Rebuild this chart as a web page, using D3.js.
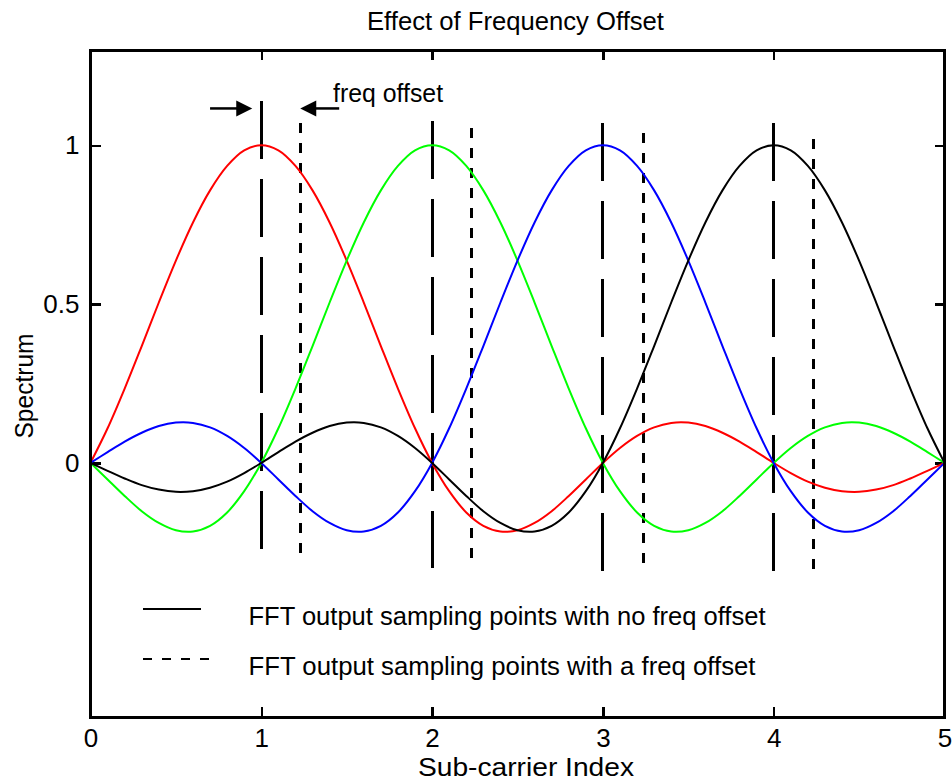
<!DOCTYPE html>
<html>
<head>
<meta charset="utf-8">
<script src="https://d3js.org/d3.v7.min.js"></script>
<style>
  body { margin: 0; background: #fff; }
  text { font-family: Arial, "Liberation Sans", sans-serif; fill: #000; }
</style>
</head>
<body>
<div class="plot-item"></div>
<script>
// sub-carrier index axis (sample positions of the curves)
var subcarrierIndex = [0,0.1,0.2,0.3,0.4,0.5,0.6,0.7,0.8,0.9,
  1,1.1,1.2,1.3,1.4,1.5,1.6,1.7,1.8,1.9,
  2,2.1,2.2,2.3,2.4,2.5,2.6,2.7,2.8,2.9,
  3,3.1,3.2,3.3,3.4,3.5,3.6,3.7,3.8,3.9,
  4,4.1,4.2,4.3,4.4,4.5,4.6,4.7,4.8,4.9,5];

// spectrum of each sub-carrier
var spectrumRed = [0,0.109,0.234,0.368,0.505,0.637,0.757,0.858,0.935,0.984,
  1,0.984,0.935,0.858,0.757,0.637,0.505,0.368,0.234,0.109,
  0,-0.089,-0.156,-0.198,-0.216,-0.212,-0.189,-0.152,-0.104,-0.052,
  0,0.047,0.085,0.112,0.126,0.127,0.116,0.095,0.067,0.034,
  0,-0.032,-0.059,-0.078,-0.089,-0.091,-0.084,-0.070,-0.049,-0.025,0];
var spectrumGreen = [0,-0.052,-0.104,-0.152,-0.189,-0.212,-0.216,-0.198,-0.156,-0.089,
  0,0.109,0.234,0.368,0.505,0.637,0.757,0.858,0.935,0.984,
  1,0.984,0.935,0.858,0.757,0.637,0.505,0.368,0.234,0.109,
  0,-0.089,-0.156,-0.198,-0.216,-0.212,-0.189,-0.152,-0.104,-0.052,
  0,0.047,0.085,0.112,0.126,0.127,0.116,0.095,0.067,0.034,0];
var spectrumBlue = [0,0.034,0.067,0.095,0.116,0.127,0.126,0.112,0.085,0.047,
  0,-0.052,-0.104,-0.152,-0.189,-0.212,-0.216,-0.198,-0.156,-0.089,
  0,0.109,0.234,0.368,0.505,0.637,0.757,0.858,0.935,0.984,
  1,0.984,0.935,0.858,0.757,0.637,0.505,0.368,0.234,0.109,
  0,-0.089,-0.156,-0.198,-0.216,-0.212,-0.189,-0.152,-0.104,-0.052,0];
var spectrumBlack = [0,-0.025,-0.049,-0.070,-0.084,-0.091,-0.089,-0.078,-0.059,-0.032,
  0,0.034,0.067,0.095,0.116,0.127,0.126,0.112,0.085,0.047,
  0,-0.052,-0.104,-0.152,-0.189,-0.212,-0.216,-0.198,-0.156,-0.089,
  0,0.109,0.234,0.368,0.505,0.637,0.757,0.858,0.935,0.984,
  1,0.984,0.935,0.858,0.757,0.637,0.505,0.368,0.234,0.109,0];

// FFT sampling points: without offset, and with a frequency offset
var samplePoints = [1, 2, 3, 4];
var sampleTop = [1.141, 1.078, 1.071, 1.071];
var sampleBottom = [-0.271, -0.331, -0.343, -0.343];
var offsetPoints = [1.232, 2.233, 3.235, 4.235];
var offsetTop = [1.071, 1.055, 1.039, 1.02];
var offsetBottom = [-0.312, -0.331, -0.343, -0.363];

// arrows marking the offset
var arrowFrom = [0.70, 1.456];
var arrowTo = [0.947, 1.228];
var arrowLevel = 1.116;

var xTicks = [0, 1, 2, 3, 4, 5];
var yTicks = [0, 0.5, 1];
var legendLabels = ["FFT output sampling points with no freq offset",
                    "FFT output sampling points with a freq offset"];

var w = 952;
var h = 782;
var margin = { top: 50, bottom: 65, left: 90.5, right: 7.5 };
var width = w - margin.left - margin.right;
var height = h - margin.top - margin.bottom;

var svg = d3.select(".plot-item").append("svg")
      .attr("width", w)
      .attr("height", h);
var chart = svg.append("g")
      .attr("transform", "translate(" + margin.left + "," + margin.top + ")");

var x = d3.scaleLinear().domain([0, 5]).range([0, width]);
var y = d3.scaleLinear().domain([-0.8, 1.3]).range([height, 0]);

// axes, ticks pointing inward
function styleAxis(g, labels) {
  g.select(".domain").remove();
  g.selectAll(".tick line").attr("stroke", "#000").attr("stroke-width", 2.5)
    .attr("shape-rendering", "crispEdges");
  g.selectAll(".tick text").attr("font-size", 26).attr("fill", "#000")
    .style("font-family", "Arial, 'Liberation Sans', sans-serif");
  if (!labels) g.selectAll(".tick text").remove();
}
chart.append("g")
  .attr("transform", "translate(0," + height + ")")
  .call(d3.axisBottom(x).tickValues(xTicks).tickSize(-10).tickPadding(12).tickFormat(d3.format("d")))
  .call(styleAxis, true);
chart.append("g")
  .call(d3.axisTop(x).tickValues(xTicks).tickSize(-10))
  .call(styleAxis, false);
chart.append("g")
  .call(d3.axisLeft(y).tickValues(yTicks).tickSize(-10).tickPadding(11).tickFormat(d3.format("")))
  .call(styleAxis, true);
chart.append("g")
  .attr("transform", "translate(" + width + ",0)")
  .call(d3.axisRight(y).tickValues(yTicks).tickSize(-10))
  .call(styleAxis, false);

// vertical sampling lines
chart.selectAll(".sample")
  .data(samplePoints)
  .enter().append("line")
  .attr("x1", function(d){ return x(d); })
  .attr("x2", function(d){ return x(d); })
  .attr("y1", function(d, i){ return y(sampleTop[i]); })
  .attr("y2", function(d, i){ return y(sampleBottom[i]); })
  .attr("stroke", "#000")
  .attr("stroke-width", 3)
  .attr("stroke-dasharray", "58,20")
  .attr("shape-rendering", "crispEdges");
chart.selectAll(".offset")
  .data(offsetPoints)
  .enter().append("line")
  .attr("x1", function(d){ return x(d); })
  .attr("x2", function(d){ return x(d); })
  .attr("y1", function(d, i){ return y(offsetTop[i]); })
  .attr("y2", function(d, i){ return y(offsetBottom[i]); })
  .attr("stroke", "#000")
  .attr("stroke-width", 3)
  .attr("stroke-dasharray", "10,10")
  .attr("shape-rendering", "crispEdges");

// the four sub-carrier spectra
var series = [
  { values: spectrumRed, color: "#ff0000" },
  { values: spectrumGreen, color: "#00ff00" },
  { values: spectrumBlue, color: "#0000ff" },
  { values: spectrumBlack, color: "#000000" }
];
var line = d3.line()
  .x(function(d, i){ return x(subcarrierIndex[i]); })
  .y(function(d){ return y(d); })
  .curve(d3.curveCatmullRom);
chart.selectAll(".spectrum")
  .data(series)
  .enter().append("path")
  .attr("d", function(d){ return line(d.values); })
  .attr("fill", "none")
  .attr("stroke", function(d){ return d.color; })
  .attr("stroke-width", 2);

// freq offset arrows
arrowFrom.forEach(function(from, i){
  var to = arrowTo[i];
  var dir = to > from ? 1 : -1;
  var tipX = x(to), lineY = y(arrowLevel);
  chart.append("line")
    .attr("x1", x(from)).attr("x2", tipX - dir * 12)
    .attr("y1", lineY).attr("y2", lineY)
    .attr("stroke", "#000").attr("stroke-width", 2.5);
  chart.append("path")
    .attr("d", "M" + tipX + "," + lineY + "L" + (tipX - dir * 16) + "," + (lineY - 8) +
               "L" + (tipX - dir * 16) + "," + (lineY + 8) + "Z")
    .attr("fill", "#000");
});
chart.append("text")
  .attr("x", x(1.42))
  .attr("y", y(1.135))
  .attr("font-size", 25)
  .attr("textLength", 110)
  .attr("lengthAdjust", "spacingAndGlyphs")
  .text("freq offset");

// legend
var legend = chart.append("g")
  .attr("transform", "translate(52," + (height - 108) + ")");
legendLabels.forEach(function(label, i){
  var row = legend.append("g").attr("transform", "translate(0," + (i * 50) + ")");
  row.append("line")
    .attr("x1", 0).attr("x2", i ? 68 : 58)
    .attr("y1", 0).attr("y2", 0)
    .attr("stroke", "#000").attr("stroke-width", 2.5)
    .attr("stroke-dasharray", i ? "9,10" : null)
    .attr("shape-rendering", "crispEdges");
  row.append("text")
    .attr("x", 106)
    .attr("y", 16)
    .attr("font-size", 25)
    .attr("textLength", i ? 507 : 517)
    .attr("lengthAdjust", "spacingAndGlyphs")
    .text(label);
});

// frame
chart.append("rect")
  .attr("width", width).attr("height", height)
  .attr("fill", "none").attr("stroke", "#000").attr("stroke-width", 3)
  .attr("shape-rendering", "crispEdges");

// titles
svg.append("text")
  .attr("x", 515.5).attr("y", 30)
  .attr("text-anchor", "middle")
  .attr("font-size", 26)
  .attr("textLength", 297)
  .attr("lengthAdjust", "spacingAndGlyphs")
  .text("Effect of Frequency Offset");
svg.append("text")
  .attr("x", 526).attr("y", 776)
  .attr("text-anchor", "middle")
  .attr("font-size", 25)
  .attr("textLength", 216)
  .attr("lengthAdjust", "spacingAndGlyphs")
  .text("Sub-carrier Index");
svg.append("text")
  .attr("transform", "translate(33,386) rotate(-90)")
  .attr("text-anchor", "middle")
  .attr("font-size", 26)
  .attr("textLength", 105)
  .attr("lengthAdjust", "spacingAndGlyphs")
  .text("Spectrum");
</script>
</body>
</html>
